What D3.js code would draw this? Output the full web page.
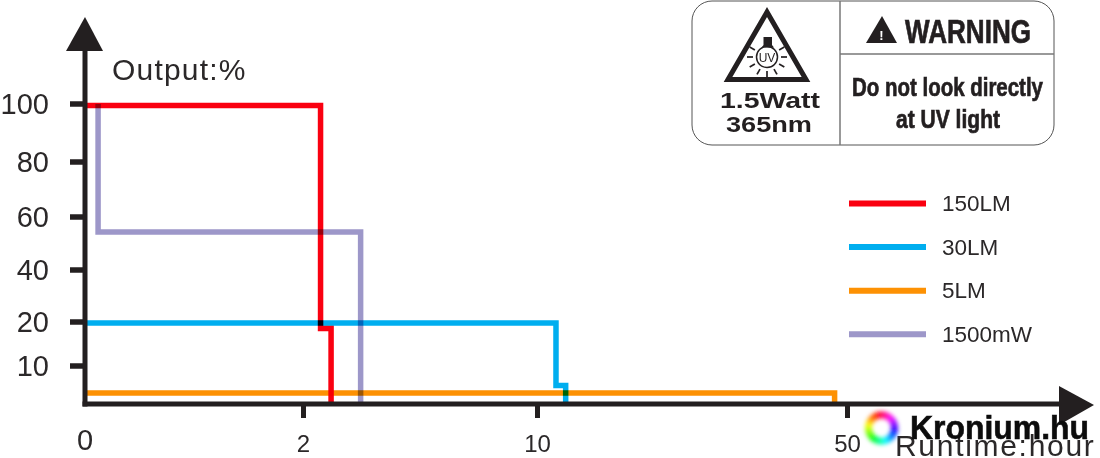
<!DOCTYPE html>
<html>
<head>
<meta charset="utf-8">
<script src="https://cdnjs.cloudflare.com/ajax/libs/d3/7.8.5/d3.min.js"></script>
<style>
	html, body { margin: 0; padding: 0; background: #fff; }
	svg { display: block; }
	text { font-family: "Liberation Sans", Arial, sans-serif; fill: #2b2829; }
	.narrow { font-family: "Liberation Sans Narrow", "Liberation Sans", sans-serif; font-weight: bold; fill: #231f20; stroke: #231f20; stroke-width: 0.7; }
	.series { mix-blend-mode: multiply; }
</style>
</head>
<body>
<svg id="chart" width="1100" height="458"></svg>
<script>
const yTicks = [10, 20, 40, 60, 80, 100];
const xTicks = [0, 2, 10, 50];

const seriesNames = ['150LM', '30LM', '5LM', '1500mW'];
const seriesColors = ['#fa0010', '#00aeef', '#fd9103', '#9d97c9'];

// runtime (hours) / output (%) of every step
const hours150 = [0, 2.6, 2.6, 2.96, 2.96];
const output150 = [99.5, 99.5, 18.5, 18.5, 0];
const hours30 = [0, 12.45, 12.45, 13.7, 13.7];
const output30 = [19.8, 19.8, 4.7, 4.7, 0];
const hours5 = [0, 48.4, 48.4];
const output5 = [2.7, 2.7, 0];
const hours1500 = [0.12, 0.12, 3.97, 3.97];
const output1500 = [100, 54.3, 54.3, 0];

const svg = d3.select('#chart');
const ink = '#231f20';

// both axes are hand-spaced in the picture, hence the piecewise scales
const x = d3.scaleLinear().domain([0, 2, 10, 50]).range([85, 303, 537, 847]);
const y = d3.scaleLinear().domain([0, 10, 20, 40, 60, 80, 100]).range([403, 366, 322, 270, 217, 162, 104]);

const line = d3.line()
	.x(d => x(d[0]))
	.y(d => y(d[1]))
	.curve(d3.curveLinear);

const series = [
	{ name: 'purple', hours: hours1500, output: output1500, color: seriesColors[3] },
	{ name: 'red', hours: hours150, output: output150, color: seriesColors[0] },
	{ name: 'blue', hours: hours30, output: output30, color: seriesColors[1] },
	{ name: 'orange', hours: hours5, output: output5, color: seriesColors[2] }
];

svg.selectAll('path.series')
	.data(series)
	.enter().append('path')
	.attr('class', 'series')
	.attr('fill', 'none')
	.attr('stroke', d => d.color)
	.attr('stroke-width', 5.5)
	.attr('stroke-linejoin', 'miter')
	.attr('d', d => line(d.hours.map((h, i) => [h, d.output[i]])));

// axes
const yAxis = svg.append('g')
	.attr('transform', 'translate(85,0)')
	.call(d3.axisLeft(y).tickValues(yTicks).tickSize(15).tickPadding(21));
yAxis.select('.domain').remove();
yAxis.selectAll('line').attr('stroke', ink).attr('stroke-width', 5.5).attr('transform', 'translate(0,-0.5)');
yAxis.selectAll('text').style('font-size', '29px').style('font-family', '"Liberation Sans", sans-serif').attr('fill', '#2b2829').attr('dy', '0.34em');

const xAxis = svg.append('g')
	.attr('transform', 'translate(0,404)')
	.call(d3.axisBottom(x).tickValues(xTicks.slice(1)).tickSize(14).tickPadding(17));
xAxis.select('.domain').remove();
xAxis.selectAll('line').attr('stroke', ink).attr('stroke-width', 5);
xAxis.selectAll('text').style('font-size', '24px').style('font-family', '"Liberation Sans", sans-serif').attr('fill', '#2b2829');

svg.append('text').attr('x', 85).attr('y', 450).attr('text-anchor', 'middle').style('font-size', '29px').text(xTicks[0]);

svg.append('line').attr('x1', 85).attr('x2', 85).attr('y1', 406.5).attr('y2', 48).attr('stroke', ink).attr('stroke-width', 5);
svg.append('line').attr('x1', 82.5).attr('x2', 1062).attr('y1', 404).attr('y2', 404).attr('stroke', ink).attr('stroke-width', 5);
svg.append('path').attr('d', 'M85,17L103,51L66,51Z').attr('fill', ink);
svg.append('path').attr('d', 'M1094,405L1059,386L1059,425Z').attr('fill', ink);

svg.append('text').attr('x', 112).attr('y', 80).style('font-size', '30px').attr('letter-spacing', 1.2).text('Output:%');
svg.append('text').attr('x', 895).attr('y', 456).style('font-size', '30px').attr('letter-spacing', 1.7).text('Runtime:hour');

// legend
const legend = svg.selectAll('g.legend')
	.data(seriesNames)
	.enter().append('g')
	.attr('class', 'legend')
	.attr('transform', (d, i) => 'translate(0,' + (203.5 + i * 43.6) + ')');
legend.append('line')
	.attr('x1', 849).attr('x2', 926)
	.attr('stroke', (d, i) => seriesColors[i])
	.attr('stroke-width', 6);
legend.append('text')
	.attr('x', 942).attr('y', 7.5)
	.style('font-size', '22.5px')
	.text(d => d);

// warning label
const box = svg.append('g');
box.append('rect').attr('x', 692).attr('y', 1).attr('width', 362).attr('height', 144).attr('rx', 20)
	.attr('fill', '#fff').attr('stroke', '#555').attr('stroke-width', 1);
box.append('line').attr('x1', 840).attr('x2', 840).attr('y1', 1).attr('y2', 145).attr('stroke', '#777').attr('stroke-width', 1.5);
box.append('line').attr('x1', 840).attr('x2', 1054).attr('y1', 54).attr('y2', 54).attr('stroke', '#777').attr('stroke-width', 1.5);

box.append('path').attr('d', 'M767,12L806,79.5L728,79.5Z').attr('fill', 'none').attr('stroke', ink).attr('stroke-width', 5);
box.append('circle').attr('cx', 767).attr('cy', 57).attr('r', 10.5).attr('fill', 'none').attr('stroke', ink).attr('stroke-width', 1.5);
box.append('path').attr('d', 'M763.5,37H772V45L774,47.5H761.5L763.5,45Z').attr('fill', ink);
box.selectAll('line.ray')
	.data([0, 30, -30, 180, 150, 210, -90, -60, -120].map(a => a * Math.PI / 180))
	.enter().append('line')
	.attr('class', 'ray')
	.attr('x1', a => 767 + Math.cos(a) * 14)
	.attr('y1', a => 57 - Math.sin(a) * 14)
	.attr('x2', a => 767 + Math.cos(a) * 20)
	.attr('y2', a => 57 - Math.sin(a) * 20)
	.attr('stroke', ink).attr('stroke-width', 1.7);
box.append('text').attr('x', 767).attr('y', 61.5).attr('text-anchor', 'middle').style('font-size', '12px').style('fill', ink).text('UV');
box.append('text').attr('x', 720).attr('y', 108).style('font-size', '22px').style('font-weight', 'bold').style('fill', ink)
	.attr('textLength', 100).attr('lengthAdjust', 'spacingAndGlyphs').text('1.5Watt');
box.append('text').attr('x', 726).attr('y', 132).style('font-size', '22px').style('font-weight', 'bold').style('fill', ink)
	.attr('textLength', 86).attr('lengthAdjust', 'spacingAndGlyphs').text('365nm');

box.append('path').attr('d', 'M882,16L897,43L866,43Z').attr('fill', ink);
box.append('text').attr('x', 881.5).attr('y', 40).attr('text-anchor', 'middle').style('font-size', '13px').style('font-weight', 'bold').style('fill', '#fff').text('!');
box.append('text').attr('class', 'narrow').attr('x', 905).attr('y', 42.5).style('font-size', '34px')
	.attr('textLength', 126).attr('lengthAdjust', 'spacingAndGlyphs').text('WARNING');
box.append('text').attr('class', 'narrow').attr('x', 852).attr('y', 96).style('font-size', '26px')
	.attr('textLength', 191).attr('lengthAdjust', 'spacingAndGlyphs').text('Do not look directly');
box.append('text').attr('class', 'narrow').attr('x', 896).attr('y', 128).style('font-size', '26px')
	.attr('textLength', 104).attr('lengthAdjust', 'spacingAndGlyphs').text('at UV light');

// watermark
const defs = svg.append('defs');
defs.append('filter').attr('id', 'soft')
	.attr('x', '-30%').attr('y', '-30%').attr('width', '160%').attr('height', '160%')
	.append('feGaussianBlur').attr('stdDeviation', 2);
const ring = svg.append('g').attr('transform', 'translate(881.5,428)').attr('filter', 'url(#soft)');
const hues = d3.range(0, 360, 6);
const ringArc = d3.arc().innerRadius(9.5).outerRadius(16.5);
ring.selectAll('path')
	.data(hues)
	.enter().append('path')
	.attr('d', h => ringArc({ startAngle: h * Math.PI / 180, endAngle: (h + 7) * Math.PI / 180 }))
	.attr('fill', h => d3.hsl(340 - h, 1, 0.5));
svg.append('text').attr('x', 910).attr('y', 439).style('font-size', '34px').style('font-weight', 'bold').style('fill', '#0c0c0c')
	.style('stroke', '#0c0c0c').style('stroke-width', 0.6)
	.attr('textLength', 179).attr('lengthAdjust', 'spacingAndGlyphs').text('Kronium.hu');
</script>
</body>
</html>
